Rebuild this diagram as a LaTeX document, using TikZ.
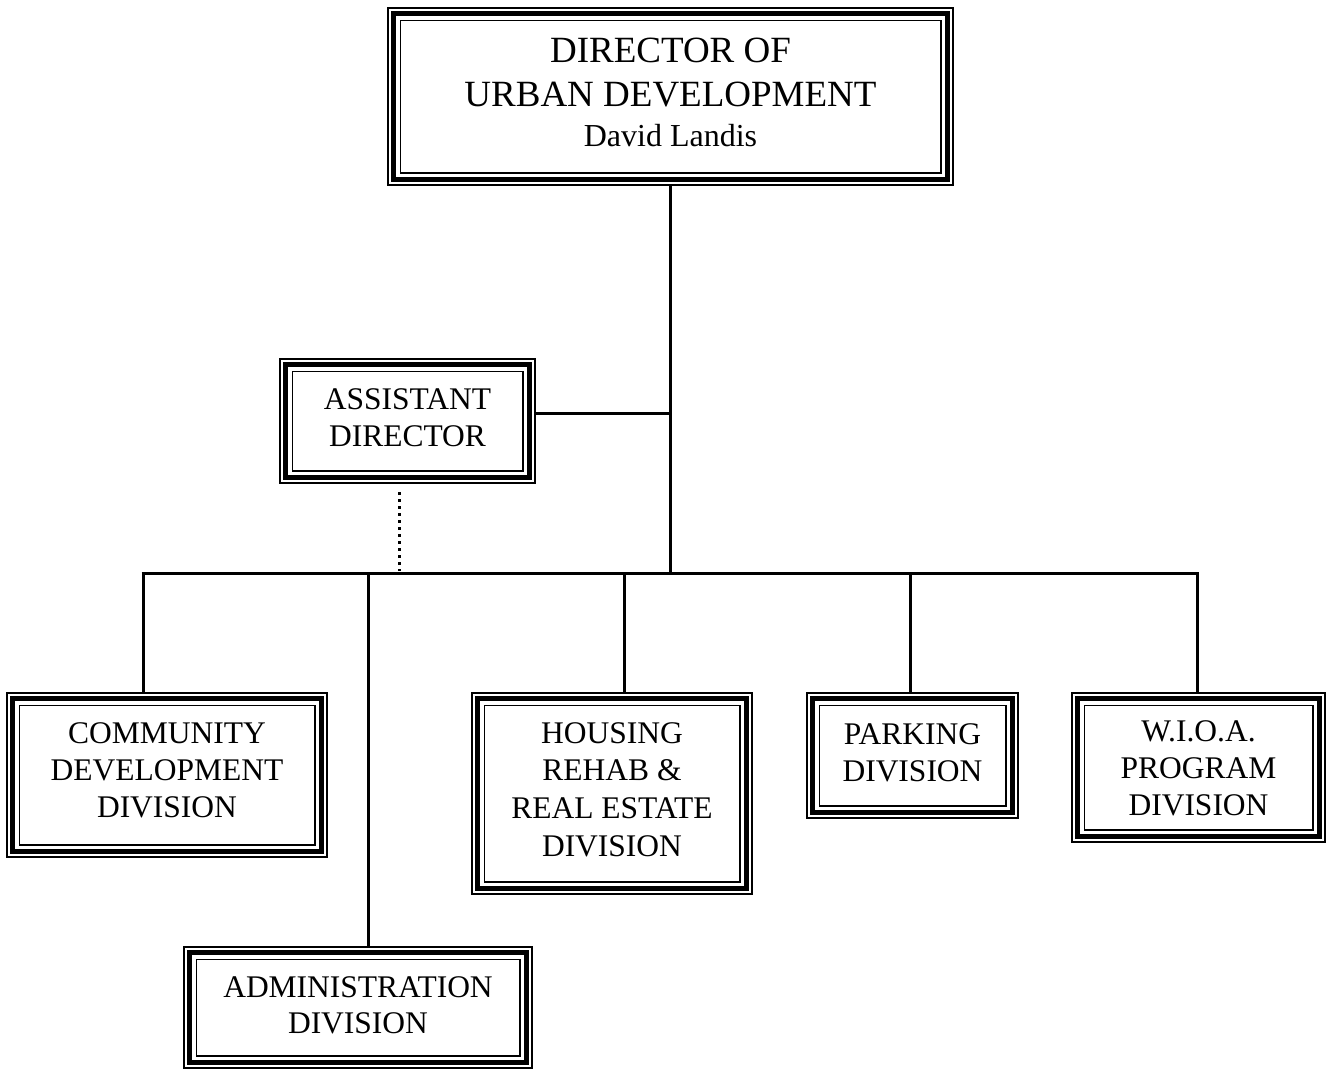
\documentclass[tikz,border=0pt]{standalone}
\usepackage{fontspec}
\setmainfont{Liberation Serif}
\begin{document}
\begin{tikzpicture}[x=1pt,y=-1pt,
  box/.style={draw, line width=1.5pt, inner sep=0pt},
  txt/.style={inner sep=0pt, align=center, font=\fontsize{31.5}{37}\selectfont},
  midframe/.style={line width=4.8pt},
  inframe/.style={line width=1.5pt},
  conn/.style={line width=3pt},
  dots/.style={line width=3pt, dash pattern=on 3pt off 4pt}]
\useasboundingbox (0,0) rectangle (1327,1069);
\node[box, minimum width=565pt, minimum height=177pt] (dir) at (670.5,96.5) {};
\node[box, minimum width=255pt, minimum height=124pt] (asst) at (407.5,421) {};
\node[box, minimum width=320pt, minimum height=164pt] (comm) at (167,775) {};
\node[box, minimum width=348pt, minimum height=121pt] (admin) at (358,1007.5) {};
\node[box, minimum width=280pt, minimum height=201pt] (house) at (612,793.5) {};
\node[box, minimum width=211pt, minimum height=125pt] (park) at (912.5,755.5) {};
\node[box, minimum width=253pt, minimum height=149pt] (wioa) at (1198.5,767.5) {};
\foreach \n in {dir,asst,comm,admin,house,park,wioa}{
  \draw[midframe] ([shift={(6.5pt,-6.5pt)}]\n.north west) rectangle ([shift={(-6.5pt,6.5pt)}]\n.south east);
  \draw[inframe] ([shift={(13pt,-13pt)}]\n.north west) rectangle ([shift={(-13pt,13pt)}]\n.south east);
}
\node[txt, font=\fontsize{37}{44}\selectfont] (dirT) at ([yshift=4pt]dir.center)
  {DIRECTOR OF\\URBAN DEVELOPMENT\\[-4pt]{\fontsize{32}{36}\selectfont David Landis}};
\node[txt] (asstT) at ([yshift=3pt]asst.center) {ASSISTANT\\DIRECTOR};
\node[txt] (commT) at ([yshift=5pt]comm.center) {COMMUNITY\\DEVELOPMENT\\DIVISION};
\node[txt, font=\fontsize{31.5}{35.5}\selectfont] (adminT) at ([yshift=2pt]admin.center) {ADMINISTRATION\\DIVISION};
\node[txt, font=\fontsize{31.5}{37.7}\selectfont] (houseT) at ([yshift=4pt]house.center) {HOUSING\\REHAB \&\\REAL ESTATE\\DIVISION};
\node[txt] (parkT) at ([yshift=3pt]park.center) {PARKING\\DIVISION};
\node[txt] (wioaT) at ([yshift=-1pt]wioa.center) {W.I.O.A.\\PROGRAM\\DIVISION};
\coordinate (jA) at (670,413);
\coordinate (bus) at (670,573);
\coordinate (bL) at (143,573);
\coordinate (bR) at (1197,573);
\coordinate (bAd) at (368,573);
\coordinate (bHo) at (624,573);
\coordinate (bPa) at (910,573);
\coordinate (dTop) at (399,492);
\coordinate (dA) at (399,571);
\draw[conn] (dir.south -| bus) -- (bus);
\draw[conn] (asst.east |- jA) -- (jA);
\draw[conn] ([xshift=-1.5pt]bL) -- ([xshift=1.5pt]bR);
\draw[conn] (bL) -- (bL |- comm.north);
\draw[conn] (bAd) -- (bAd |- admin.north);
\draw[conn] (bHo) -- (bHo |- house.north);
\draw[conn] (bPa) -- (bPa |- park.north);
\draw[conn] (bR) -- (bR |- wioa.north);
\draw[dots] (dTop) -- (dA);
\end{tikzpicture}
\end{document}
